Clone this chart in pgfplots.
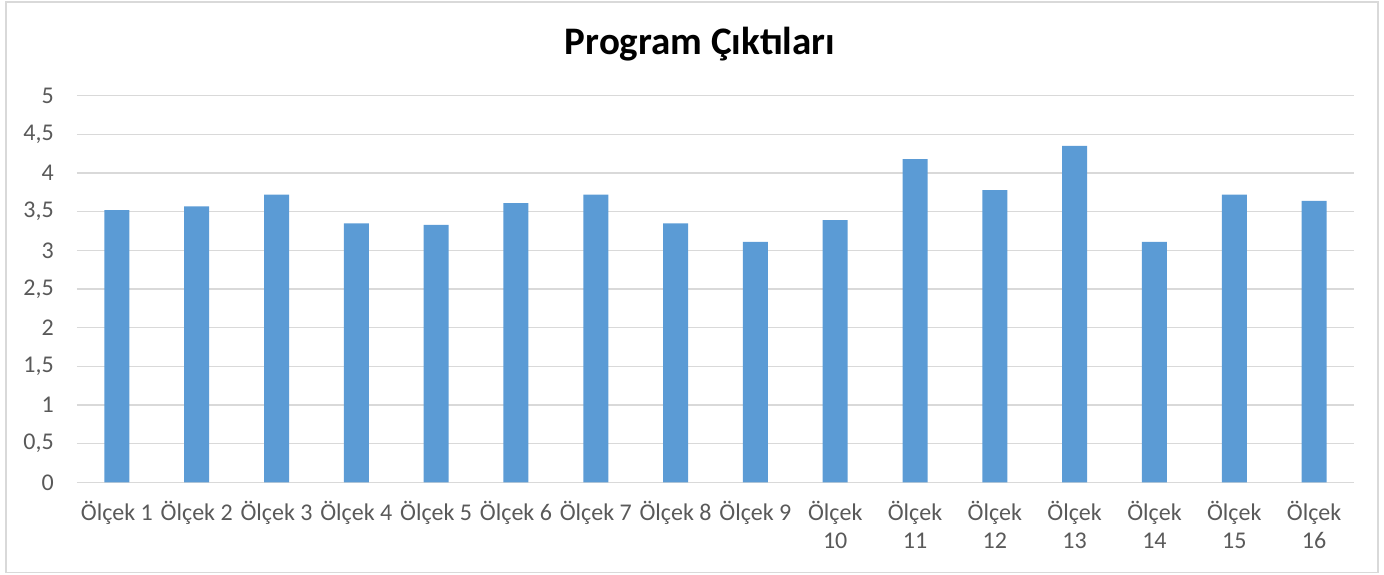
\documentclass[border=0pt]{standalone}
\usepackage{pgfplots}
\pgfplotsset{compat=1.18}
\usepackage{fontspec}
\setmainfont{Carlito}
\definecolor{barblue}{HTML}{5B9BD5}
\definecolor{gridgray}{HTML}{D9D9D9}
\definecolor{textgray}{HTML}{595959}
\begin{document}
\begin{tikzpicture}
\path[use as bounding box] (0pt,0pt) rectangle (1384pt,575pt);
\draw[gridgray, line width=1.5pt] (6pt,2.5pt) rectangle (1378pt,573pt);
\node[font=\fontsize{39}{46}\selectfont\bfseries, text=black, anchor=base] at (700pt,520pt) {Program Çıktıları};
\begin{axis}[
  at={(77pt,92.7pt)}, anchor=south west,
  scale only axis, width=1277pt, height=386.6pt,
  xmin=-0.5, xmax=15.5, ymin=0, ymax=5,
  ybar, bar width=25pt,
  ytick={0,0.5,1,1.5,2,2.5,3,3.5,4,4.5,5},
  xtick={0,1,2,3,4,5,6,7,8,9,10,11,12,13,14,15},
  xticklabels={Ölçek 1,Ölçek 2,Ölçek 3,Ölçek 4,Ölçek 5,Ölçek 6,Ölçek 7,Ölçek 8,Ölçek 9,{Ölçek\\10},{Ölçek\\11},{Ölçek\\12},{Ölçek\\13},{Ölçek\\14},{Ölçek\\15},{Ölçek\\16}},
  /pgf/number format/use comma,
  /pgf/number format/fixed,
  /pgf/number format/assume math mode=true,
  ticklabel style={font=\fontsize{24}{28}\selectfont, text=textgray},
  xticklabel style={align=center, anchor=north, inner sep=0pt, yshift=-19pt},
  yticklabel style={anchor=east, inner sep=0pt, xshift=-23pt},
  major tick length=0pt,
  axis line style={draw=none},
  ymajorgrids, grid style={gridgray, line width=1.5pt},
]
\addplot[fill=barblue, draw=none] coordinates {
(0,3.52) (1,3.57) (2,3.72) (3,3.35) (4,3.33) (5,3.61) (6,3.72) (7,3.35)
(8,3.11) (9,3.39) (10,4.18) (11,3.78) (12,4.35) (13,3.11) (14,3.72) (15,3.64)};
\end{axis}
\end{tikzpicture}
\end{document}
